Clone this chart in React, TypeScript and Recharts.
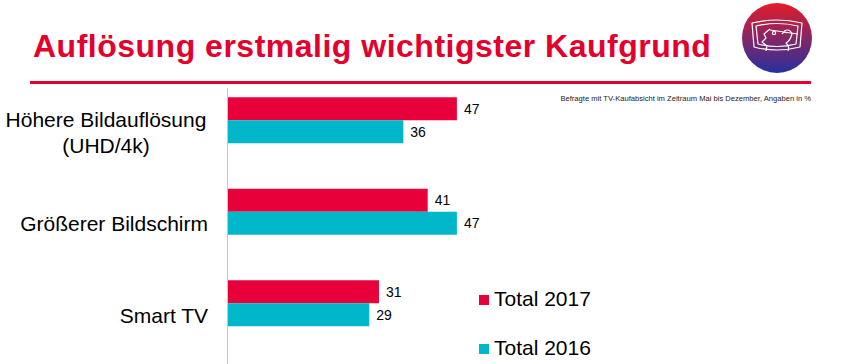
import { BarChart, Bar, XAxis, YAxis, LabelList } from "recharts";

const categories = ["Höhere Bildauflösung\n(UHD/4k)", "Größerer Bildschirm", "Smart TV"];
const total2017 = [47, 41, 31];
const total2016 = [36, 47, 29];
const seriesNames = ["Total 2017", "Total 2016"];

const RED = "#e8003b";
const TEAL = "#00b7c9";
const FONT = "'Liberation Sans', Arial, sans-serif";
const LABEL_RIGHT = 208;

const data = categories.map((name, i) => ({
  name,
  t2017: total2017[i],
  t2016: total2016[i],
}));

// category labels sit a bit below the band centre, like in the slide
function CategoryTick({ y, payload }: any) {
  const lines = String(payload.value).split("\n");
  const lineHeight = 26;
  const firstBaseline = y + 12 - ((lines.length - 1) * lineHeight) / 2 + 7.5;
  const multi = lines.length > 1;
  const tx = multi ? 106 : LABEL_RIGHT;
  return (
    <text
      x={tx}
      y={firstBaseline}
      textAnchor={multi ? "middle" : "end"}
      fontSize={21}
      fontFamily={FONT}
      fill="#000"
    >
      {lines.map((line, i) => (
        <tspan key={i} x={tx} dy={i === 0 ? 0 : lineHeight}>
          {line}
        </tspan>
      ))}
    </text>
  );
}

export default function App() {
  const colors = [RED, TEAL];
  return (
    <div
      style={{
        position: "absolute",
        left: 0,
        top: 0,
        width: 850,
        height: 364,
        background: "#fff",
        overflow: "hidden",
        fontFamily: FONT,
      }}
    >
      <div
        style={{
          position: "absolute",
          left: 33,
          top: 29.6,
          fontSize: 32,
          lineHeight: "32px",
          letterSpacing: 0.5,
          fontWeight: "bold",
          color: "#e3002d",
          whiteSpace: "nowrap",
        }}
      >
        Auflösung erstmalig wichtigster Kaufgrund
      </div>
      <div style={{ position: "absolute", left: 30, top: 80.5, width: 781, height: 3, background: "#e3002d" }} />
      <svg style={{ position: "absolute", left: 740, top: 1 }} width={76} height={76}>
        <defs>
          <linearGradient id="logoGrad" x1="0" y1="0" x2="0" y2="1">
            <stop offset="0%" stopColor="#e31c2a" />
            <stop offset="100%" stopColor="#27309f" />
          </linearGradient>
        </defs>
        <circle cx={37} cy={37} r={35} fill="url(#logoGrad)" />
        <g fill="none" stroke="#fff" strokeWidth={1.2} strokeLinejoin="round">
          <path d="M12 22 Q37 16 62 22 L60 46 Q37 52 14 46 Z" />
          <path d="M16 25 Q37 20 58 25 L56 43 Q37 48 18 43 Z" />
          <path d="M30 28 L24 33 L26 37 L22 41 L27 45 L26 50" />
          <path d="M44 30 Q50 27 52 33 Q50 40 46 42 Q50 46 48 50" />
          <path d="M30 29 L58 33" />
          <circle cx={34} cy={32} r={1.6} />
          <path d="M42 33 Q44 30 47 32" />
        </g>
      </svg>
      <div
        style={{
          position: "absolute",
          right: 850 - 811,
          top: 94,
          fontSize: 7.6,
          lineHeight: "9px",
          color: "#222",
          whiteSpace: "nowrap",
        }}
      >
        Befragte mit TV-Kaufabsicht im Zeitraum Mai bis Dezember, Angaben in %
      </div>
      <div style={{ position: "absolute", left: 227, top: 88, width: 1, height: 276, background: "#c6c6c6" }} />
      <div style={{ position: "absolute", left: 0, top: 0 }}>
        <BarChart
          width={850}
          height={364}
          data={data}
          layout="vertical"
          margin={{ top: 74.25, right: 135, bottom: 15.25, left: 0 }}
          barCategoryGap="25%"
          barGap={0}
        >
          <XAxis type="number" domain={[0, 100]} hide />
          <YAxis
            type="category"
            dataKey="name"
            width={228}
            axisLine={false}
            tickLine={false}
            tick={<CategoryTick />}
            interval={0}
          />
          <Bar dataKey="t2017" name={seriesNames[0]} fill={RED} isAnimationActive={false}>
            <LabelList dataKey="t2017" position="right" offset={7} fill="#000" fontSize={14} fontFamily={FONT} />
          </Bar>
          <Bar dataKey="t2016" name={seriesNames[1]} fill={TEAL} isAnimationActive={false}>
            <LabelList dataKey="t2016" position="right" offset={7} fill="#000" fontSize={14} fontFamily={FONT} />
          </Bar>
        </BarChart>
      </div>
      <div style={{ position: "absolute", left: 479, top: 274 }}>
        {seriesNames.map((s, i) => (
          <div key={s} style={{ display: "flex", alignItems: "center", height: 49 }}>
            <span
              style={{
                display: "inline-block",
                width: 10,
                height: 10,
                background: colors[i],
                marginRight: 5,
                marginTop: 2,
              }}
            />
            <span style={{ fontSize: 21, color: "#000" }}>{s}</span>
          </div>
        ))}
      </div>
    </div>
  );
}
